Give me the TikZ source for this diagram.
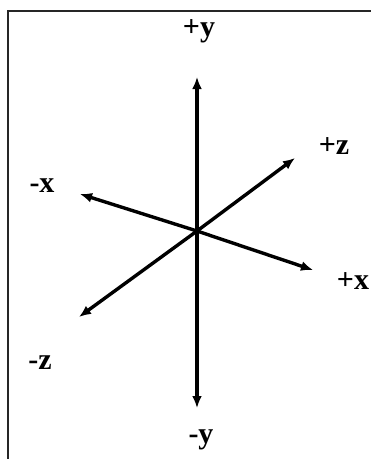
\documentclass[tikz,border=0pt]{standalone}
\usepackage{fontspec}
\setmainfont{Liberation Serif}
\usetikzlibrary{arrows.meta}
\begin{document}
\begin{tikzpicture}[x=1pt,y=-1pt,axis/.style={line width=3.4pt,-{Latex[length=12pt,width=10pt]}},lbl/.style={font=\fontsize{30}{32}\selectfont\bfseries,inner sep=0pt},frame/.style={line width=2pt,black!85}]
\useasboundingbox (0,0) rectangle (371,459);
\draw[frame] (371,11) -- (8,11) -- (8,459);
\coordinate (o) at (197,231);
\coordinate (py) at (197,77);
\coordinate (ny) at (197,408);
\coordinate (nx) at (80,194);
\coordinate (px) at (313,270);
\coordinate (pz) at (295,158);
\coordinate (nz) at (79,317);
\node[lbl] (lpy) at (199,31) {+y};
\node[lbl] (lny) at (201,440) {-y};
\node[lbl] (lnx) at (42,186) {-x};
\node[lbl] (lpx) at (353,281) {+x};
\node[lbl] (lpz) at (334,146) {+z};
\node[lbl] (lnz) at (40,363) {-z};
\draw[axis](o)--(py);\draw[axis](o)--(ny);\draw[axis](o)--(nx);\draw[axis](o)--(px);\draw[axis](o)--(pz);\draw[axis](o)--(nz);
\end{tikzpicture}
\end{document}
